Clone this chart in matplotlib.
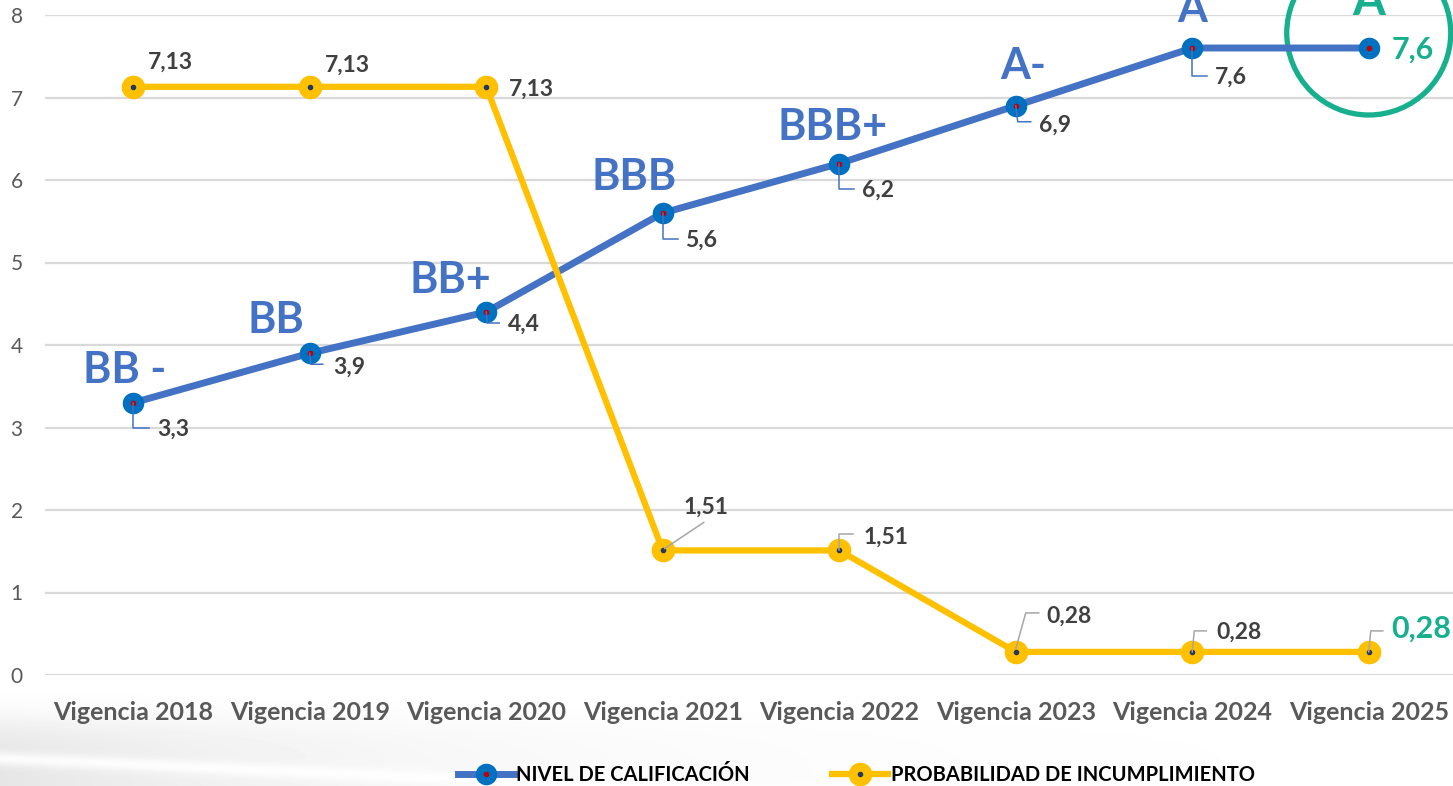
import numpy as np
import matplotlib
matplotlib.use("Agg")
import matplotlib.pyplot as plt
import matplotlib.transforms as mtransforms
from matplotlib.lines import Line2D
from matplotlib.legend_handler import HandlerTuple
from matplotlib.patches import Circle

plt.rcParams["font.family"] = ["Lato", "DejaVu Sans"]

# data
years = ["Vigencia 2018", "Vigencia 2019", "Vigencia 2020", "Vigencia 2021",
         "Vigencia 2022", "Vigencia 2023", "Vigencia 2024", "Vigencia 2025"]
nivel = [3.3, 3.9, 4.4, 5.6, 6.2, 6.9, 7.6, 7.6]
nivel_txt = ["3,3", "3,9", "4,4", "5,6", "6,2", "6,9", "7,6", "7,6"]
rating = ["BB -", "BB", "BB+", "BBB", "BBB+", "A-", "A", "A"]
prob = [7.13, 7.13, 7.13, 1.51, 1.51, 0.28, 0.28, 0.28]
prob_txt = ["7,13", "7,13", "7,13", "1,51", "1,51", "0,28", "0,28", "0,28"]

BLUE_LINE = "#4472C4"
BLUE_MK = "#0070C0"
YELLOW = "#FFC000"
GREEN = "#17B08F"
DARK = "#404040"
GRAY_TXT = "#595959"

W, H, DPI = 1453, 786, 100
fig = plt.figure(figsize=(W / DPI, H / DPI), dpi=DPI)

# faint grey swoosh in the lower-left corner
bg = fig.add_axes([0, 0, 1, 1], zorder=-5)
bg.axis("off")
xx, yy = np.meshgrid(np.arange(W), np.arange(H))
yc = 758 + 0.045 * xx
d = 0.10 * np.exp(-xx / 380.0) / (1 + np.exp(-(yy - 722) / 10.0))
d *= 1 - 0.85 * np.exp(-((yy - yc) / 7.0) ** 2)
bg.imshow(1 - d, cmap="gray", vmin=0, vmax=1, extent=[0, W, H, 0], aspect="auto")
bg.set_xlim(0, W)
bg.set_ylim(H, 0)

ax = fig.add_axes([45 / W, 111 / H, 1412 / W, 660 / H])
ax.set_facecolor("none")
x = np.arange(len(years))

ax.plot(x, nivel, color=BLUE_LINE, lw=5, marker="o", ms=14.5,
        mfc=BLUE_MK, mec=BLUE_MK, zorder=3, solid_capstyle="round")
ax.plot(x, nivel, ls="none", marker="o", ms=3, color="#C00000", zorder=4)
ax.plot(x, prob, color=YELLOW, lw=4.5, marker="o", ms=16,
        mfc=YELLOW, mec=YELLOW, zorder=5)
ax.plot(x, prob, ls="none", marker="o", ms=3, color="#1F3864", zorder=6)

ax.set_xlim(-0.5, 7.5)
ax.set_ylim(0, 8)
ax.set_yticks(range(9))
ax.set_xticks(x)
ax.set_xticklabels(years, fontsize=18, fontweight="bold", color=GRAY_TXT)
ax.tick_params(axis="x", length=0, pad=19)
ax.tick_params(axis="y", length=0, pad=16, labelsize=15, labelcolor=GRAY_TXT)
ax.grid(axis="y", color="#D9D9D9", lw=1.6, zorder=0)
for s in ax.spines.values():
    s.set_visible(False)


def at_point(i, y):
    # inch-based transform anchored on a data point
    return fig.dpi_scale_trans + mtransforms.ScaledTranslation(i, y, ax.transData)


def leader(i, y, pts, color):
    px = [p[0] / DPI for p in pts]
    py = [-p[1] / DPI for p in pts]
    ax.add_line(Line2D(px, py, transform=at_point(i, y), color=color, lw=1.1,
                       zorder=7, clip_on=False))


def label(i, y, txt, dx, dy, color=DARK, size=16.5, ha="left"):
    ax.annotate(txt, (i, y), xytext=(dx, -dy), textcoords="offset pixels",
                ha=ha, va="baseline", fontsize=size, fontweight="bold",
                color=color, zorder=8, annotation_clip=False)


# rating labels (pixel offsets from the point, y downwards, baseline)
rating_off = [(-9, -20), (-34, -20), (-36, -19), (-29, -23), (-7, -23),
              (7, -27), (0, -26), (0, -33)]
for i, (r, (dx, dy)) in enumerate(zip(rating, rating_off)):
    col = GREEN if i == len(rating) - 1 else BLUE_LINE
    size = 34 if i == len(rating) - 1 else 31
    label(i, nivel[i], r, dx, dy, color=col, size=size, ha="center")

# nivel value labels with L-shaped leaders
nivel_off = [(24, 33), (23, 20), (22, 19), (22, 34), (23, 33), (23, 26), (23, 36)]
nivel_lead = [[(0, 0), (0, 25), (16, 25)], [(0, 0), (1, 11), (13, 11)],
              [(0, 0), (1, 11), (13, 11)], [(0, 0), (0, 26), (15, 26)],
              [(0, 0), (0, 25), (15, 25)], [(0, 0), (2, 16), (15, 16)],
              [(0, 0), (0, 28), (15, 28)]]
for i, ((dx, dy), pts) in enumerate(zip(nivel_off, nivel_lead)):
    leader(i, nivel[i], pts, BLUE_LINE)
    label(i, nivel[i], nivel_txt[i], dx, dy)
label(7, nivel[7], nivel_txt[7], 23, 11, color=GREEN, size=22)

# probability labels
prob_off = [(15, -18), (15, -15), (23, 9), (21, -37), (24, -7), (31, -29),
            (24, -13), (23, -14)]
prob_lead = [None, None, None, [(2, -2), (41, -28)],
             [(0, 0), (0, -16), (14, -16)],
             [(0, -3), (10, -39), (23, -39)],
             [(0, 0), (2, -21), (14, -21)],
             [(0, 0), (2, -21), (14, -21)]]
for i, ((dx, dy), pts) in enumerate(zip(prob_off, prob_lead)):
    if pts:
        leader(i, prob[i], pts, "#A6A6A6")
    last = i == len(prob) - 1
    label(i, prob[i], prob_txt[i], dx, dy, color=GREEN if last else DARK,
          size=22 if last else 16.5)

# green ring around the last rating
ax.add_patch(Circle((0, 0.15), 0.82, transform=at_point(7, nivel[7]),
                    fill=False, ec=GREEN, lw=3.8, zorder=2, clip_on=False))

# legend
h_blue = (Line2D([], [], color=BLUE_LINE, lw=5, marker="o", ms=14.5,
                 mfc=BLUE_MK, mec=BLUE_MK),
          Line2D([], [], ls="none", marker="o", ms=3, color="#C00000"))
h_yel = (Line2D([], [], color=YELLOW, lw=4.5, marker="o", ms=16,
                mfc=YELLOW, mec=YELLOW),
         Line2D([], [], ls="none", marker="o", ms=3, color="#1F3864"))
fig.legend([h_blue, h_yel], ["NIVEL DE CALIFICACIÓN", "PROBABILIDAD DE INCUMPLIMIENTO"],
           handler_map={tuple: HandlerTuple(ndivide=1)}, ncol=2, loc="center",
           bbox_to_anchor=(856 / W, 11 / H), frameon=False, handlelength=2.8,
           handletextpad=0.1, columnspacing=4.1,
           prop={"size": 14.5, "weight": "bold"})

fig.savefig("out.png", dpi=DPI)
